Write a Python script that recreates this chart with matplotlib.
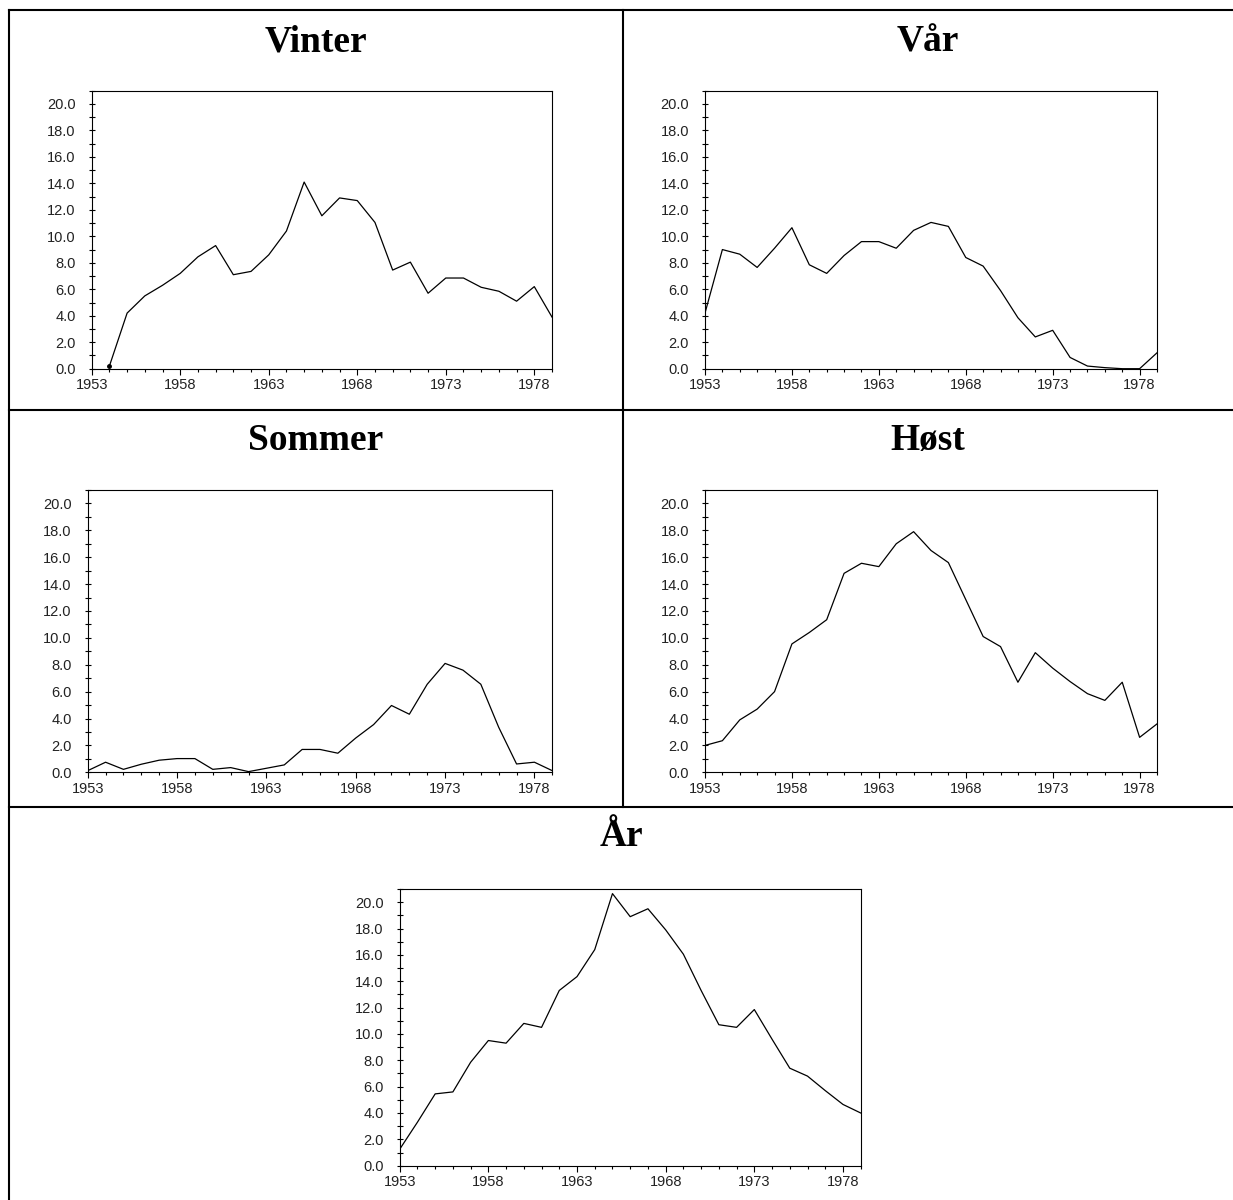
import numpy as np
import matplotlib
matplotlib.use("Agg")
import matplotlib.pyplot as plt
from matplotlib.lines import Line2D
from matplotlib.ticker import MultipleLocator, FixedLocator, FormatStrFormatter

years = list(range(1953, 1980))

vinter = [np.nan, 0.2, 4.2, 5.5, 6.3, 7.2, 8.45, 9.3, 7.1, 7.35, 8.6, 10.4, 14.1, 11.55,
          12.9, 12.7, 11.05, 7.45, 8.05, 5.7, 6.85, 6.85, 6.15, 5.85, 5.1, 6.2, 3.9]
vaar = [4.2, 9.0, 8.65, 7.65, 9.1, 10.65, 7.85, 7.2, 8.55, 9.6, 9.6, 9.1, 10.45, 11.05,
        10.75, 8.4, 7.75, 5.9, 3.85, 2.4, 2.9, 0.85, 0.2, 0.08, 0.0, 0.0, 1.2]
sommer = [0.12, 0.75, 0.22, 0.6, 0.9, 1.02, 1.02, 0.22, 0.35, 0.05, 0.3, 0.55, 1.7, 1.7,
          1.42, 2.55, 3.55, 4.97, 4.32, 6.55, 8.1, 7.6, 6.55, 3.35, 0.62, 0.75, 0.12]
hoest = [2.0, 2.35, 3.9, 4.7, 6.0, 9.55, 10.4, 11.35, 14.8, 15.55, 15.3, 17.0, 17.9, 16.5,
         15.6, 12.85, 10.1, 9.35, 6.7, 8.9, 7.75, 6.75, 5.85, 5.35, 6.7, 2.6, 3.6]
aar = [1.25, 3.3, 5.45, 5.6, 7.85, 9.5, 9.3, 10.8, 10.5, 13.3, 14.35, 16.4, 20.65, 18.9,
       19.5, 17.9, 16.05, 13.3, 10.7, 10.5, 11.85, 9.6, 7.4, 6.8, 5.7, 4.65, 4.0]

titles = ["Vinter", "Vår", "Sommer", "Høst", "År"]
series = [vinter, vaar, sommer, hoest, aar]
x_major = [1953, 1958, 1963, 1968, 1973, 1978]
y_max = 21.0

W, H = 1233, 1200
fig = plt.figure(figsize=(W / 100, H / 100), dpi=100)


def fx(px):
    return px / W


def fy(py):
    return 1 - py / H


# axes boxes in pixels: left, right, top, bottom
boxes = [
    (91.7, 552.0, 90.7, 368.7),
    (705.0, 1157.0, 90.7, 368.7),
    (87.7, 552.3, 490.0, 772.3),
    (705.0, 1157.0, 490.0, 772.3),
    (399.7, 860.7, 889.0, 1165.7),
]
title_pos = [(316, 51), (928, 51), (316, 450), (928, 450), (621, 846)]

tick_font = dict(family=["Liberation Sans", "DejaVu Sans"], size=10.5)

for title, data, (l, r, t, b), (tx, ty) in zip(titles, series, boxes, title_pos):
    ax = fig.add_axes([fx(l), fy(b), fx(r) - fx(l), fy(t) - fy(b)])
    ax.plot(years, data, color="black", lw=0.9)
    arr = np.asarray(data, dtype=float)
    valid = np.where(~np.isnan(arr))[0]
    if np.isnan(arr[0]):
        ax.plot(years[valid[0]], arr[valid[0]], "o", color="black", ms=2.5)
    ax.set_xlim(1953, 1979)
    ax.set_ylim(0, y_max)
    ax.xaxis.set_major_locator(FixedLocator(x_major))
    ax.xaxis.set_minor_locator(MultipleLocator(1))
    ax.yaxis.set_major_locator(MultipleLocator(2))
    ax.yaxis.set_minor_locator(MultipleLocator(1))
    ax.yaxis.set_major_formatter(FormatStrFormatter("%.1f"))
    ax.tick_params(axis="y", which="both", direction="inout", length=5, width=0.8,
                   pad=9.0, colors="black", labelcolor="#222222")
    ax.tick_params(axis="x", which="major", direction="out", length=4.5, width=0.8,
                   pad=2.5, colors="black", labelcolor="#222222")
    ax.tick_params(axis="x", which="minor", direction="out", length=2.5, width=0.8,
                   colors="black")
    for lab in ax.get_xticklabels() + ax.get_yticklabels():
        lab.set_fontfamily(tick_font["family"])
        lab.set_fontsize(tick_font["size"])
    for s in ax.spines.values():
        s.set_linewidth(0.8)
        s.set_color("black")
    fig.text(fx(tx), fy(ty), title, ha="center", va="baseline",
             fontfamily=["Liberation Serif", "DejaVu Serif"], fontweight="bold",
             fontsize=27)

# table frame lines
lw = 1.5
frame = [
    ((9, 1233), (10, 10)),
    ((9, 9), (10, 1200)),
    ((623, 623), (10, 807)),
    ((9, 1233), (410, 410)),
    ((9, 1233), (807, 807)),
]
for xs, ys in frame:
    fig.add_artist(Line2D([fx(v) for v in xs], [fy(v) for v in ys],
                          color="black", lw=lw, transform=fig.transFigure))

fig.savefig("out.png", dpi=100, facecolor="white")
